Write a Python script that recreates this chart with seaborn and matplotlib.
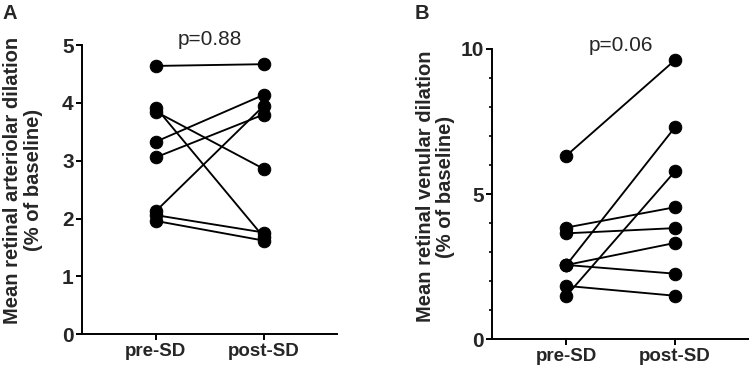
import matplotlib
matplotlib.use("Agg")
import matplotlib.pyplot as plt
import seaborn as sns
import pandas as pd
from matplotlib.ticker import MultipleLocator

# Panel A: arteriolar dilation, one pair per subject
art_pre = [4.64, 3.92, 3.85, 3.33, 3.06, 2.13, 2.06, 1.96]
art_post = [4.67, 1.68, 2.86, 4.14, 3.80, 3.95, 1.76, 1.62]

# Panel B: venular dilation
ven_pre = [6.33, 3.85, 3.65, 2.56, 2.56, 2.56, 1.84, 1.50]
ven_post = [9.62, 4.55, 3.83, 7.31, 3.32, 2.26, 1.50, 5.79]

conditions = ["pre-SD", "post-SD"]
p_values = ["p=0.88", "p=0.06"]
ylabels = ["Mean retinal arteriolar dilation\n(% of baseline)",
           "Mean retinal venular dilation\n(% of baseline)"]


def long_df(pre, post):
    rows = []
    for i, (a, b) in enumerate(zip(pre, post)):
        rows.append({"subject": i, "cond": conditions[0], "value": a})
        rows.append({"subject": i, "cond": conditions[1], "value": b})
    return pd.DataFrame(rows)


sns.set_style("ticks")
plt.rcParams["font.family"] = ["Liberation Sans", "DejaVu Sans"]

fig = plt.figure(figsize=(7.49, 3.67), dpi=100)
ax_a = fig.add_axes([0.1095, 0.0891, 0.3405, 0.788])
ax_b = fig.add_axes([0.6569, 0.0755, 0.3431, 0.791])

panels = [
    (ax_a, art_pre, art_post, 5, 1, None, p_values[0], ylabels[0], 5.09, (-0.153, 0.533)),
    (ax_b, ven_pre, ven_post, 10, 5, 1, p_values[1], ylabels[1], 10.12, (-0.144, 0.526)),
]

for ax, pre, post, ymax, major, minor, ptxt, ylab, py, lab_xy in panels:
    df = long_df(pre, post)
    sns.lineplot(data=df, x="cond", y="value", units="subject", estimator=None,
                 color="black", marker="o", markersize=9, markeredgecolor="black",
                 linewidth=1.35, ax=ax, clip_on=False, legend=False)
    ax.set_ylim(0, ymax)
    ax.set_xlim(-0.685, 1.68)
    ax.yaxis.set_major_locator(MultipleLocator(major))
    if minor:
        ax.yaxis.set_minor_locator(MultipleLocator(minor))
    ax.set_xlabel("")
    ax.set_ylabel(ylab, fontsize=14.5, fontweight="bold", linespacing=1.1)
    ax.yaxis.set_label_coords(*lab_xy)
    sns.despine(ax=ax)
    for s in ["left", "bottom"]:
        ax.spines[s].set_linewidth(1.4)
        ax.spines[s].set_color("black")
    ax.tick_params(axis="both", which="major", length=4, width=1.4, color="black", pad=2)
    ax.tick_params(axis="x", labelsize=13.5)
    ax.tick_params(axis="y", labelsize=15)
    ax.tick_params(axis="y", which="minor", length=2.5, width=1.2, color="black")
    for lbl in ax.get_xticklabels() + ax.get_yticklabels():
        lbl.set_fontweight("bold")
    ax.text(0.5, py, ptxt, ha="center", va="center", fontsize=15)

fig.text(0.004, 0.99, "A", ha="left", va="top", fontsize=14.5, fontweight="bold")
fig.text(0.554, 0.99, "B", ha="left", va="top", fontsize=14.5, fontweight="bold")

fig.savefig("out.png", dpi=100)
